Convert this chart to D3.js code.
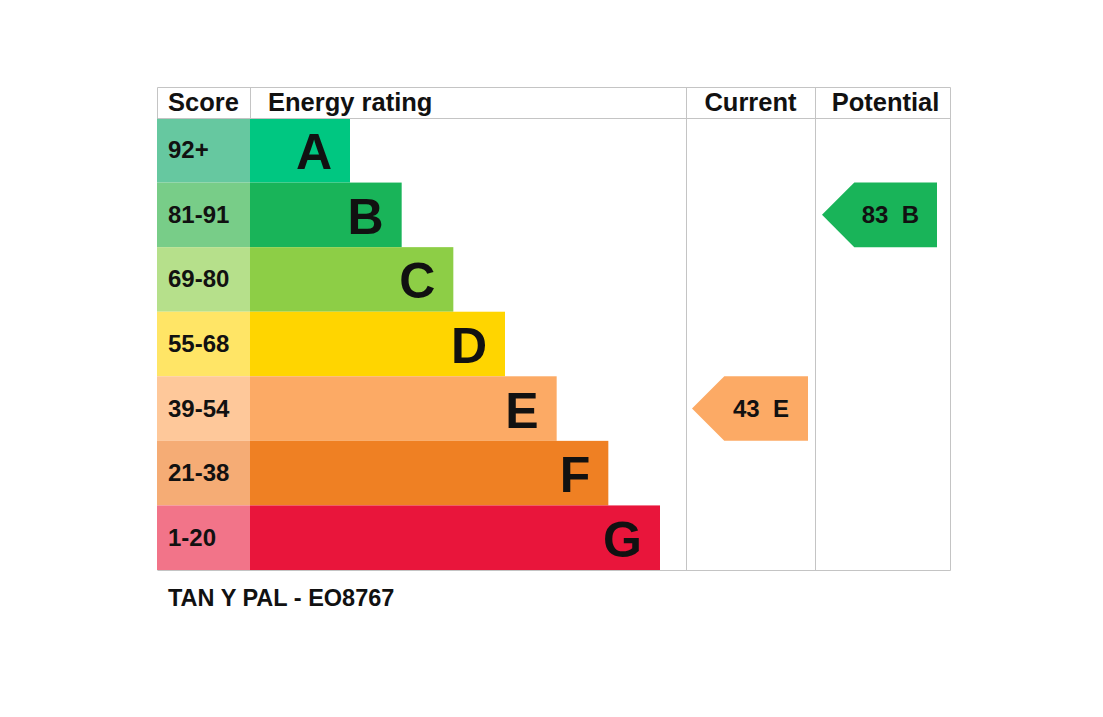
<!DOCTYPE html>
<html>
<head>
<meta charset="utf-8">
<script src="https://cdn.jsdelivr.net/npm/d3@7"></script>
<style>
    body { margin: 0; background: #fff; }
    text { font-family: "Liberation Sans", Arial, sans-serif; font-weight: bold; fill: #111; }
</style>
</head>
<body>
<div id="chart"></div>
<script>
// ---- data ----
const bands = ['A', 'B', 'C', 'D', 'E', 'F', 'G'];
const scoreRanges = ['92+', '81-91', '69-80', '55-68', '39-54', '21-38', '1-20'];
const bandColours = ['#00c781', '#19b459', '#8dce46', '#ffd500', '#fcaa65', '#ef8023', '#e9153b'];
const scoreColours = ['#66c8a0', '#78cd88', '#b6e08b', '#ffe566', '#fec89a', '#f5ac75', '#f27489'];
const headers = ['Score', 'Energy rating', 'Current', 'Potential'];
const currentRating = {score: 43, band: 'E'};
const potentialRating = {score: 83, band: 'B'};
const footerLabel = 'TAN Y PAL - EO8767';

// ---- layout ----
let width = 1103, height = 717;
let cols = {score: 157, rating: 250, current: 686, potential: 815, end: 950};
let tableTop = 87, headBottom = 118, tableBottom = 570;
let lineColour = '#c4c4c4';

let svg = d3.select('#chart').append('svg')
    .attr('width', width)
    .attr('height', height);

let y = d3.scaleBand()
    .domain(bands)
    .range([headBottom, tableBottom]);

// bar end grows with each band
let barEnd = d3.scaleLinear()
    .domain([0, bands.length - 1])
    .range([350, 660]);

// score cells
svg.selectAll('.score-cell')
    .data(bands)
    .enter().append('rect')
    .attr('x', cols.score)
    .attr('y', d => y(d))
    .attr('width', cols.rating - cols.score)
    .attr('height', y.bandwidth())
    .attr('fill', (d, i) => scoreColours[i]);

svg.selectAll('.score-label')
    .data(bands)
    .enter().append('text')
    .attr('x', cols.score + 11)
    .attr('y', d => y(d) + y.bandwidth() / 2 + 8)
    .attr('font-size', 24)
    .text((d, i) => scoreRanges[i]);

// rating bars
svg.selectAll('.bar')
    .data(bands)
    .enter().append('rect')
    .attr('x', cols.rating)
    .attr('y', d => y(d))
    .attr('width', (d, i) => barEnd(i) - cols.rating)
    .attr('height', y.bandwidth())
    .attr('fill', (d, i) => bandColours[i]);

svg.selectAll('.bar-letter')
    .data(bands)
    .enter().append('text')
    .attr('x', (d, i) => barEnd(i) - 18)
    .attr('y', d => y(d) + y.bandwidth() / 2 + 19)
    .attr('text-anchor', 'end')
    .attr('font-size', 50)
    .text(d => d);

// grid lines
let lines = [
    [cols.score, tableTop, cols.end, tableTop],
    [cols.score, headBottom, cols.end, headBottom],
    [cols.score, tableBottom, cols.end, tableBottom],
    [cols.score, tableTop, cols.score, headBottom],
    [cols.rating, tableTop, cols.rating, headBottom],
    [cols.current, tableTop, cols.current, tableBottom],
    [cols.potential, tableTop, cols.potential, tableBottom],
    [cols.end, tableTop, cols.end, tableBottom]
];
svg.selectAll('.grid')
    .data(lines)
    .enter().append('line')
    .attr('x1', d => d[0] + 0.5).attr('y1', d => d[1] + 0.5)
    .attr('x2', d => d[2] + 0.5).attr('y2', d => d[3] + 0.5)
    .attr('stroke', lineColour)
    .attr('stroke-width', 1);

// headers
let headerPos = [
    {x: cols.score + 11, anchor: 'start'},
    {x: cols.rating + 18, anchor: 'start'},
    {x: (cols.current + cols.potential) / 2, anchor: 'middle'},
    {x: (cols.potential + cols.end) / 2 + 3, anchor: 'middle'}
];
svg.selectAll('.header')
    .data(headers)
    .enter().append('text')
    .attr('x', (d, i) => headerPos[i].x)
    .attr('y', headBottom - 7)
    .attr('text-anchor', (d, i) => headerPos[i].anchor)
    .attr('font-size', 25.5)
    .text(d => d);

// arrows for current / potential
function drawArrow(rating, x0, x1) {
    let i = bands.indexOf(rating.band);
    let y0 = y(rating.band), h = y.bandwidth();
    let tip = h / 2;
    let pts = [[x0, y0 + h / 2], [x0 + tip, y0], [x1, y0], [x1, y0 + h], [x0 + tip, y0 + h]];
    svg.append('polygon')
        .attr('points', pts.map(p => p.join(',')).join(' '))
        .attr('fill', bandColours[i]);
    svg.append('text')
        .attr('x', (x0 + tip * 0.8 + x1) / 2 - 2)
        .attr('y', y0 + h / 2 + 8)
        .attr('text-anchor', 'middle')
        .attr('font-size', 24)
        .style('white-space', 'pre')
        .text(rating.score + '  ' + rating.band);
}
drawArrow(currentRating, cols.current + 6, cols.potential - 7);
drawArrow(potentialRating, cols.potential + 7, cols.end - 13);

// footer
svg.append('text')
    .attr('x', cols.score + 11)
    .attr('y', 606)
    .attr('font-size', 23.5)
    .text(footerLabel);
</script>
</body>
</html>
